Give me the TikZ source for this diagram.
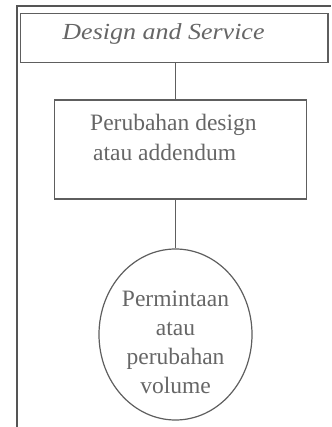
\documentclass[tikz,border=0pt]{standalone}
\usepackage{fontspec}
\setmainfont{Liberation Serif}
\usetikzlibrary{shapes.geometric}
\definecolor{ink}{HTML}{5E5E5E}
\definecolor{frameink}{HTML}{555555}
\definecolor{txt}{HTML}{666666}
\begin{document}
\begin{tikzpicture}[x=1pt,y=-1pt,
  frameline/.style={draw=frameink,line width=2pt},
  box/.style={draw=ink,line width=1.2pt,inner sep=0pt},
  link/.style={draw=ink,line width=1.2pt},
  label/.style={text=txt,inner sep=0pt,font=\fontsize{23.5}{30}\selectfont}]
\useasboundingbox (0,0) rectangle (331,427);
% swimlane frame
\draw[frameline] (16.5,427) -- (16.5,5.8) -- (331,5.8);
% lane header
\node[box,minimum width=307.5pt,minimum height=49pt] (title) at (174.25,38) {};
\node[label,font=\itshape\fontsize{23}{28}\selectfont,anchor=base] (titletext) at (163.5,39.5) {\scalebox{1.13}[1]{Design and Service}};
% process box
\node[box,minimum width=252.4pt,minimum height=99pt] (change) at (180.5,149.5) {};
\node[label,align=left,anchor=north west] (changetext) at (90,114) {Perubahan design\\\hspace*{3pt}atau addendum};
% outcome
\node[box,ellipse,minimum width=153pt,minimum height=171pt] (vol) at (175.5,334.5) {};
\node[label,align=center,font=\fontsize{23.5}{28.9}\selectfont,anchor=north] (voltext) at (175.5,291) {Permintaan\\atau\\perubahan\\volume};
% connectors
\draw[link] (title.south -| vol.north) -- (change.north -| vol.north);
\draw[link] (change.south -| vol.north) -- (vol.north);
\end{tikzpicture}
\end{document}
